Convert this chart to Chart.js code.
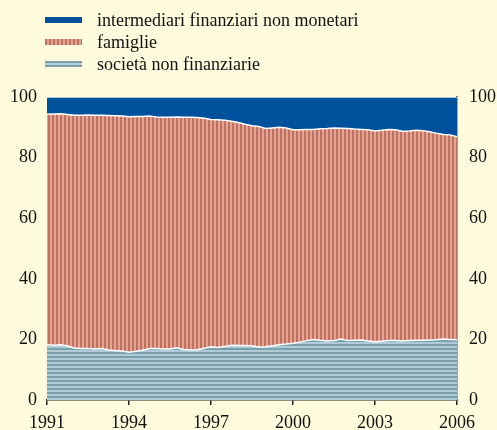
<!DOCTYPE html>
<html>
<head>
<meta charset="utf-8">
<script src="https://cdn.jsdelivr.net/npm/chart.js@4/dist/chart.umd.min.js"></script>
<style>
  html, body { margin: 0; padding: 0; background: #fefcdc; }
  #wrap { position: relative; width: 497px; height: 430px; }
  canvas { display: block; }
  #legend { position: absolute; left: 45px; top: 9px; font-family: "Liberation Serif", "Times New Roman", serif; font-size: 18px; color: #111; }
  .row { height: 22px; display: flex; align-items: center; }
  .sw { width: 37px; height: 6px; margin-right: 15px; }
  .sw1 { background: #00519c; }
  .sw2 { background: repeating-linear-gradient(90deg, #c0705f 0 2px, #e2a494 2px 4px); }
  .sw3 { background: linear-gradient(180deg, #7aa0ae 0 2px, #b4ced8 2px 4px, #7aa0ae 4px 6px); }
</style>
</head>
<body>
<div id="wrap">
  <canvas id="c" width="497" height="430"></canvas>
  <div id="legend">
    <div class="row"><div class="sw sw1"></div><span>intermediari finanziari non monetari</span></div>
    <div class="row"><div class="sw sw2"></div><span>famiglie</span></div>
    <div class="row"><div class="sw sw3"></div><span>società non finanziarie</span></div>
  </div>
</div>
<script>
// Quarterly categories 1991Q1 .. 2006Q1
const startYear = 1991, endYear = 2006;
const tickYears = [1991, 1994, 1997, 2000, 2003, 2006];
const quarters = [];
for (let y = startYear; y <= endYear; y++) {
  for (let q = 1; q <= 4; q++) {
    if (y === endYear && q > 1) break;
    quarters.push(y + 'Q' + q);
  }
}

const societa = [18.2,18.1,18.2,17.8,17.2,17.0,17.0,16.8,17.0,16.5,16.3,16.2,15.8,16.1,16.4,17.0,
  17.0,16.8,16.8,17.2,16.7,16.5,16.6,17.1,17.6,17.3,17.7,18.1,18.0,18.0,17.9,17.5,17.6,17.9,18.2,18.5,
  18.7,19.1,19.6,20.0,19.7,19.5,19.6,20.1,19.6,19.7,19.8,19.5,19.2,19.4,19.6,19.6,19.5,19.6,19.7,19.7,
  19.8,19.9,20.1,20.0,19.9];
const famiglie = [76.1,76.3,76.3,76.4,76.8,77.0,77.1,77.2,77.0,77.4,77.5,77.5,77.7,77.5,77.2,76.7,
  76.4,76.5,76.5,76.2,76.6,76.8,76.6,75.9,75.0,75.2,74.6,73.9,73.6,73.0,72.6,72.8,72.0,71.9,71.8,71.3,
  70.5,70.1,69.7,69.3,69.8,70.1,70.2,69.6,70.0,69.7,69.5,69.7,69.6,69.6,69.7,69.6,69.2,69.2,69.3,69.2,
  68.7,68.1,67.5,67.5,67.0];
const intermediari = [5.7,5.6,5.5,5.8,6.0,6.0,5.9,6.0,6.0,6.1,6.2,6.3,6.5,6.4,6.4,6.3,
  6.6,6.7,6.7,6.6,6.7,6.7,6.8,7.0,7.4,7.5,7.7,8.0,8.4,9.0,9.5,9.7,10.4,10.2,10.0,10.2,
  10.8,10.8,10.7,10.7,10.5,10.4,10.2,10.3,10.4,10.6,10.7,10.8,11.2,11.0,10.7,10.8,11.3,11.2,11.0,11.1,
  11.5,12.0,12.4,12.5,13.1];
const yTicks = [0, 20, 40, 60, 80, 100];

function makePattern(vertical, dark, light) {
  const p = document.createElement('canvas');
  p.width = 4; p.height = 4;
  const g = p.getContext('2d');
  g.fillStyle = light; g.fillRect(0, 0, 4, 4);
  g.fillStyle = dark;
  if (vertical) g.fillRect(0, 0, 2, 4); else g.fillRect(0, 0, 4, 2);
  return g.createPattern(p, 'repeat');
}
const ctx = document.getElementById('c').getContext('2d');
const famPat = makePattern(true, '#c0705f', '#e2a494');
const socPat = makePattern(false, '#7aa0ae', '#b0cbd6');

const tickFont = { family: '"Liberation Serif", "Times New Roman", serif', size: 18 };
const isYearTick = (i) => i % 12 === 0;

new Chart(ctx, {
  type: 'line',
  data: {
    labels: quarters,
    datasets: [
      { label: 'società non finanziarie', data: societa, backgroundColor: socPat, borderColor: '#ffffff', borderWidth: 1.5, fill: 'origin', pointRadius: 0, tension: 0 },
      { label: 'famiglie', data: famiglie, backgroundColor: famPat, borderColor: '#ffffff', borderWidth: 1.5, fill: '-1', pointRadius: 0, tension: 0 },
      { label: 'intermediari finanziari non monetari', data: intermediari, backgroundColor: '#00519c', borderColor: '#b8c8dc', borderWidth: 2, fill: '-1', pointRadius: 0, tension: 0 }
    ]
  },
  options: {
    responsive: false,
    animation: false,
    layout: { padding: { top: 97, left: 0, right: 0, bottom: 0 } },
    plugins: { legend: { display: false }, tooltip: { enabled: false } },
    scales: {
      x: {
        offset: false,
        grid: {
          drawOnChartArea: false, drawTicks: true, tickLength: 5,
          color: (c) => (c.index !== undefined && isYearTick(c.index)) ? '#222' : 'rgba(0,0,0,0)',
          lineWidth: 1.5
        },
        border: { display: true, color: '#222', width: 1.5 },
        ticks: {
          autoSkip: false, maxRotation: 0, padding: 7, color: '#111', font: tickFont,
          callback: (v, i) => isYearTick(i) ? String(startYear + i / 4) : ''
        },
        afterFit: (s) => { s.height = 30; }
      },
      y: {
        stacked: true, min: 0, max: 100,
        afterBuildTicks: (s) => { s.ticks = yTicks.map(v => ({ value: v })); },
        grid: { display: false, drawTicks: false },
        border: { display: false },
        ticks: { color: '#111', font: tickFont, padding: 10 },
        afterFit: (s) => { s.width = 47; }
      },
      y2: {
        position: 'right', min: 0, max: 100,
        afterBuildTicks: (s) => { s.ticks = yTicks.map(v => ({ value: v })); },
        grid: { display: false, drawTicks: false },
        border: { display: true, color: '#555', width: 1.5 },
        ticks: { color: '#111', font: tickFont, padding: 12 },
        afterFit: (s) => { s.width = 40; }
      }
    }
  }
});
</script>
</body>
</html>
